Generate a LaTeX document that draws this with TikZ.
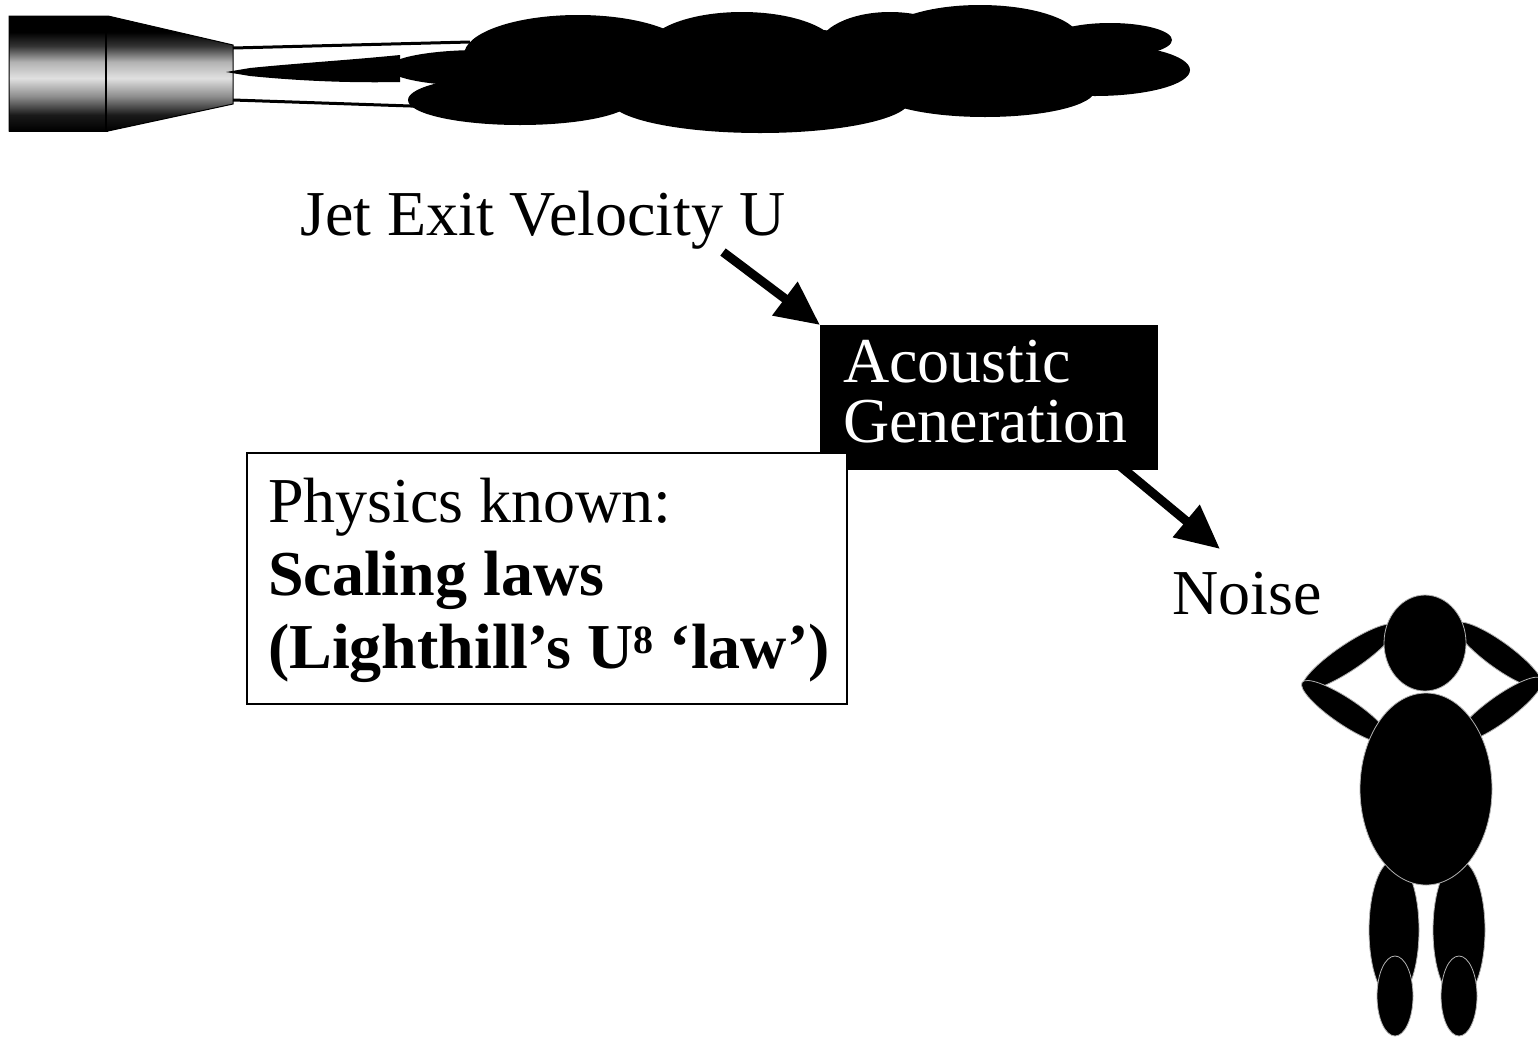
\documentclass[tikz,border=0pt]{standalone}
\usepackage{fontspec}
\setmainfont{Liberation Serif}
\usetikzlibrary{arrows.meta}
% metallic look of the nozzle: dark rims, bright middle band
\pgfdeclareverticalshading{nozzleshade}{100bp}{color(0bp)=(black); color(25bp)=(black); color(32bp)=(black!90); color(40bp)=(black!45); color(48bp)=(black!12); color(55bp)=(black!30); color(62bp)=(black!80); color(68bp)=(black); color(75bp)=(black); color(100bp)=(black)}
\begin{document}
\begin{tikzpicture}[x=1pt,y=-1pt,
  txt/.style={inner sep=0pt, anchor=base west, font=\fontsize{64}{64}\selectfont},
  flow/.style={line width=9pt, -{Triangle[length=44pt,width=40pt]}},
  smoke/.style={fill=black},
  limb/.style={fill=black, draw=gray!60, line width=0.8pt}]
\useasboundingbox (0,0) rectangle (1538,1037);
\clip (0,0) rectangle (1538,1037);

% ---------- nozzle ----------
\shade[shading=nozzleshade] (9,16) rectangle (108,131);
\shade[shading=nozzleshade] (108,16) -- (233,45) -- (233,104) -- (108,131) -- cycle;
\draw[line width=1pt] (9,16) -- (108,16) -- (233,45) -- (233,104) -- (108,131) -- (9,131) -- cycle;
\draw[line width=2pt] (106,16) -- (106,131);

% ---------- jet boundary and core ----------
\draw[line width=3pt] (233,48) -- (470,42);
\draw[line width=3pt] (233,100) -- (470,108);
\fill (226,72) -- (250,68) .. controls (300,63) and (350,60) .. (400,55)
      -- (400,82) .. controls (350,83) and (300,81) .. (250,76) -- cycle;

% ---------- turbulent plume ----------
\fill[smoke] (480,68) ellipse [x radius=92pt, y radius=18pt];
\fill[smoke] (520,100) ellipse [x radius=112pt, y radius=25pt];
\fill[smoke] (578,55) ellipse [x radius=114pt, y radius=40pt];
\fill[smoke] (742,50) ellipse [x radius=96pt, y radius=38pt];
\fill[smoke] (890,48) ellipse [x radius=72pt, y radius=36pt];
\fill[smoke] (980,40) ellipse [x radius=100pt, y radius=35pt];
\fill[smoke] (1110,40) ellipse [x radius=62pt, y radius=17pt];
\fill[smoke] (1095,70) ellipse [x radius=95pt, y radius=26pt];
\fill[smoke] (760,100) ellipse [x radius=150pt, y radius=33pt];
\fill[smoke] (985,90) ellipse [x radius=110pt, y radius=27pt];
\fill[smoke] (790,70) ellipse [x radius=320pt, y radius=40pt];

% ---------- labels and boxes ----------
\node[txt] (jet) at (300,235) {Jet Exit Velocity U};

\node[fill=black, minimum width=338pt, minimum height=145pt, inner sep=0pt,
      anchor=north west] (acoustic) at (820,325) {};
\node[txt, text=white] (ac1) at (843,382) {Acoustic};
\node[txt, text=white] (ac2) at (843,442) {Generation};

\node[draw=black, fill=white, line width=2pt, minimum width=600pt, minimum height=251pt,
      inner sep=0pt, anchor=north west] (physics) at (246,452) {};
\node[txt] (ph1) at (268,522) {Physics known:};
\node[txt, font=\fontsize{64}{64}\selectfont\bfseries] (ph2) at (268,595) {Scaling laws};
\node[txt, font=\fontsize{64}{64}\selectfont\bfseries] (ph3) at (268,668)
  {(Lighthill’s U\raisebox{15pt}{\fontsize{40}{40}\selectfont 8} ‘law’)};

\node[txt] (noise) at (1172,614) {Noise};

% ---------- causal arrows ----------
\coordinate (a1) at (723,252);
\draw[flow] (a1) -- (acoustic.north west);
\coordinate (a2s) at (1120,466);
\coordinate (a2e) at (1220,549);
\draw[flow] (a2s) -- (a2e);

% ---------- listener covering his ears ----------
\fill[limb, rotate around={34:(1349,657)}] (1349,657) ellipse [x radius=56pt, y radius=13pt];
\fill[limb, rotate around={-34:(1346,712)}] (1346,712) ellipse [x radius=53pt, y radius=13pt];
\fill[limb, rotate around={-36:(1499,655)}] (1499,655) ellipse [x radius=53pt, y radius=13pt];
\fill[limb, rotate around={36:(1499,710)}] (1499,710) ellipse [x radius=53pt, y radius=13pt];
\fill[limb] (1394,930) ellipse [x radius=25pt, y radius=70pt];
\fill[limb] (1459,930) ellipse [x radius=26pt, y radius=70pt];
\fill[limb] (1395,996) ellipse [x radius=18pt, y radius=40pt];
\fill[limb] (1459,996) ellipse [x radius=18pt, y radius=40pt];
\fill[limb] (1426,789) ellipse [x radius=66pt, y radius=96pt];
\fill[limb] (1425,643) ellipse [x radius=41pt, y radius=48pt];
\end{tikzpicture}
\end{document}
